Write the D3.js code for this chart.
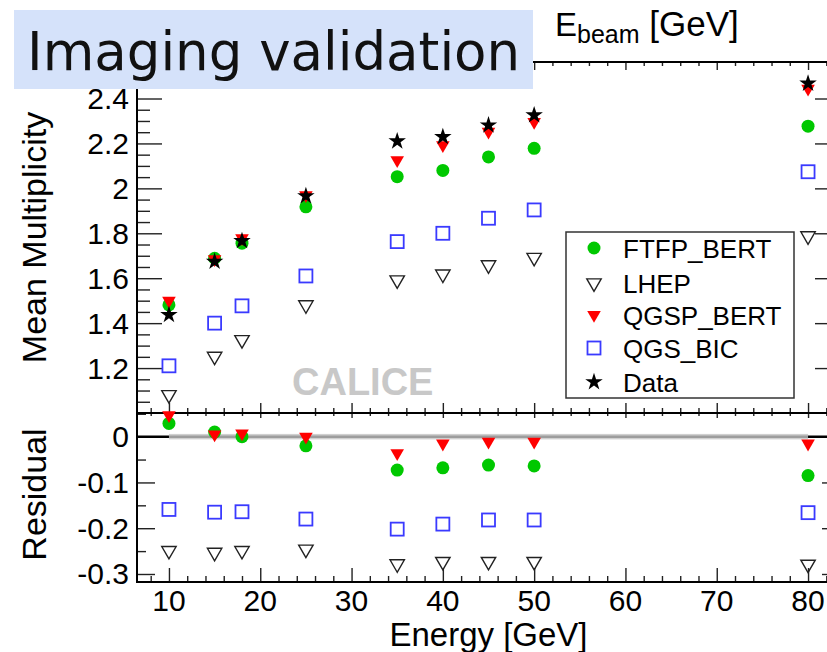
<!DOCTYPE html>
<html>
<head>
<meta charset="utf-8">
<script src="https://cdn.jsdelivr.net/npm/d3@7"></script>
<style>
  body { margin: 0; background: #fff; }
  svg { display: block; font-family: "Liberation Sans", Arial, sans-serif; }
</style>
</head>
<body>
<div id="chart"></div>
<script>
// beam energies (GeV)
var energies = [10, 15, 18, 25, 35, 40, 45, 50, 80];

// mean multiplicity, top panel
var dataMult   = [1.437, 1.674, 1.766, 1.966, 2.210, 2.229, 2.281, 2.326, 2.467];
var ftfpMult   = [1.481, 1.689, 1.756, 1.918, 2.052, 2.080, 2.140, 2.178, 2.277];
var lhepMult   = [1.081, 1.252, 1.326, 1.481, 1.592, 1.618, 1.659, 1.692, 1.788];
var qgspMult   = [1.500, 1.685, 1.778, 1.970, 2.126, 2.192, 2.252, 2.296, 2.444];
var qgsbicMult = [1.210, 1.400, 1.477, 1.610, 1.763, 1.800, 1.867, 1.904, 2.074];

// residuals (MC - data) / data, bottom panel
var ftfpRes   = [0.029, 0.010, 0.000, -0.020, -0.073, -0.068, -0.062, -0.064, -0.085];
var lhepRes   = [-0.249, -0.253, -0.249, -0.246, -0.278, -0.273, -0.273, -0.273, -0.279];
var qgspRes   = [0.047, 0.005, 0.007, 0.000, -0.036, -0.015, -0.011, -0.011, -0.015];
var qgsbicRes = [-0.159, -0.165, -0.164, -0.180, -0.202, -0.191, -0.182, -0.182, -0.166];

// tick labels
var xTickLabels = ["10", "20", "30", "40", "50", "60", "70", "80"];
var topTickLabels = ["1.2", "1.4", "1.6", "1.8", "2", "2.2", "2.4"];
var botTickLabels = ["0", "-0.1", "-0.2", "-0.3"];

var legendNames = ["FTFP_BERT", "LHEP", "QGSP_BERT", "QGS_BIC", "Data"];

var W = 827, H = 652;
var L = 137, R = 840, T = 62, M = 413, B = 582;

var svg = d3.select("#chart").append("svg")
  .attr("width", W).attr("height", H);

var x = d3.scaleLinear().domain([6.5, 83.5]).range([L, R]);
var yTop = d3.scaleLinear().domain([1.0, 2.5625]).range([M, T]);
var yBot = d3.scaleLinear().domain([-0.3175, 0.0517]).range([B, M]);

function range(a, b, step) {
  var out = [];
  for (var v = a; v <= b + 1e-9; v += step) out.push(Math.round(v * 1000) / 1000);
  return out;
}

var xMajor = xTickLabels.map(Number);
var xMinor = range(8, 82, 2).filter(function(v) { return v % 10 !== 0; });
var topMajor = topTickLabels.map(Number);
var topMinor = range(1.05, 2.55, 0.05).filter(function(v) { return topMajor.indexOf(v) < 0; });
var botMajor = botTickLabels.map(Number);
var botMinor = [0.05, -0.05, -0.15, -0.25];

// draws ticks with d3.axis, no domain path
function ticks(g, axis, values, size) {
  g.call(axis.tickValues(values).tickSize(size).tickFormat(""))
    .call(function(s) { s.select(".domain").remove(); });
  g.selectAll("line").attr("stroke", "#222").attr("stroke-width", 1.4);
  return g;
}

var axes = svg.append("g");

// top panel: left and right y ticks
ticks(axes.append("g").attr("transform", "translate(" + L + ",0)"), d3.axisRight(yTop), topMajor, 25);
ticks(axes.append("g").attr("transform", "translate(" + L + ",0)"), d3.axisRight(yTop), topMinor, 13);
ticks(axes.append("g").attr("transform", "translate(" + R + ",0)"), d3.axisLeft(yTop), topMajor, 25);
ticks(axes.append("g").attr("transform", "translate(" + R + ",0)"), d3.axisLeft(yTop), topMinor, 13);
// top panel: x ticks on bottom (pointing up) and top frame (pointing down)
ticks(axes.append("g").attr("transform", "translate(0," + M + ")"), d3.axisTop(x), xMajor, 10);
ticks(axes.append("g").attr("transform", "translate(0," + M + ")"), d3.axisTop(x), xMinor, 5);
ticks(axes.append("g").attr("transform", "translate(0," + T + ")"), d3.axisBottom(x), xMajor, 8);
ticks(axes.append("g").attr("transform", "translate(0," + T + ")"), d3.axisBottom(x), xMinor, 4);

// bottom panel
ticks(axes.append("g").attr("transform", "translate(" + L + ",0)"), d3.axisRight(yBot), botMajor, 18);
ticks(axes.append("g").attr("transform", "translate(" + L + ",0)"), d3.axisRight(yBot), botMinor, 9);
ticks(axes.append("g").attr("transform", "translate(" + R + ",0)"), d3.axisLeft(yBot), botMajor, 18);
ticks(axes.append("g").attr("transform", "translate(" + R + ",0)"), d3.axisLeft(yBot), botMinor, 9);
ticks(axes.append("g").attr("transform", "translate(0," + B + ")"), d3.axisTop(x), xMajor, 14);
ticks(axes.append("g").attr("transform", "translate(0," + B + ")"), d3.axisTop(x), xMinor, 6);
ticks(axes.append("g").attr("transform", "translate(0," + M + ")"), d3.axisBottom(x), xMajor, 5);
ticks(axes.append("g").attr("transform", "translate(0," + M + ")"), d3.axisBottom(x), xMinor, 3);

// zero line and data band in residual panel
svg.append("line")
  .attr("x1", L).attr("x2", R)
  .attr("y1", yBot(0)).attr("y2", yBot(0))
  .attr("stroke", "#000").attr("stroke-width", 2.5);
svg.append("rect")
  .attr("x", x(10)).attr("width", x(80) - x(10))
  .attr("y", yBot(0.006)).attr("height", yBot(-0.006) - yBot(0.006))
  .attr("fill", "#c4c4c4").attr("opacity", 0.8);

// frames
svg.append("rect").attr("x", L).attr("y", T).attr("width", R - L).attr("height", M - T)
  .attr("fill", "none").attr("stroke", "#000").attr("stroke-width", 2);
svg.append("rect").attr("x", L).attr("y", M).attr("width", R - L).attr("height", B - M)
  .attr("fill", "none").attr("stroke", "#000").attr("stroke-width", 2);

// tick labels
svg.append("g").selectAll("text").data(xTickLabels).enter().append("text")
  .attr("x", function(d) { return x(+d); })
  .attr("y", 611)
  .attr("text-anchor", "middle")
  .attr("font-size", 30)
  .text(function(d) { return d; });
svg.append("g").selectAll("text").data(topTickLabels).enter().append("text")
  .attr("x", 129)
  .attr("y", function(d) { return yTop(+d) + 10.5; })
  .attr("text-anchor", "end")
  .attr("font-size", 30)
  .text(function(d) { return d; });
svg.append("g").selectAll("text").data(botTickLabels).enter().append("text")
  .attr("x", 129)
  .attr("y", function(d) { return yBot(+d) + 10.5; })
  .attr("text-anchor", "end")
  .attr("font-size", 30)
  .text(function(d) { return d; });

// axis titles
svg.append("text")
  .attr("x", (L + R) / 2).attr("y", 646)
  .attr("text-anchor", "middle").attr("font-size", 33)
  .text("Energy [GeV]");
svg.append("text")
  .attr("transform", "translate(46," + ((T + M) / 2) + ") rotate(-90)")
  .attr("text-anchor", "middle").attr("font-size", 34)
  .text("Mean Multiplicity");
svg.append("text")
  .attr("transform", "translate(46," + ((M + B) / 2 - 3) + ") rotate(-90)")
  .attr("text-anchor", "middle").attr("font-size", 34)
  .text("Residual");

var ebeam = svg.append("text").attr("x", 555).attr("y", 36).attr("font-size", 33);
ebeam.append("tspan").text("E");
ebeam.append("tspan").attr("font-size", 25).attr("dy", 7).text("beam");
ebeam.append("tspan").attr("dy", -7).attr("font-size", 35).text(" [GeV]");

// watermark
svg.append("text")
  .attr("x", 292).attr("y", 395)
  .attr("font-size", 38).attr("font-weight", "bold")
  .attr("fill", "#c8c8c8")
  .text("CALICE");

// markers
var green = "#00c800", red = "#ff0000", blue = "#3a3aff";
var triDown = d3.symbol().type(d3.symbolTriangle).size(80);
var triDownBig = d3.symbol().type(d3.symbolTriangle).size(90);
var star = d3.symbol().type(d3.symbolStar).size(95);

function drawSeries(g, vals, yScale, kind) {
  var sel = g.append("g").selectAll("path").data(vals).enter();
  var px = function(d, i) { return x(energies[i]); };
  if (kind === "ftfp") {
    sel.append("circle")
      .attr("cx", px).attr("cy", function(d) { return yScale(d); })
      .attr("r", 6.5).attr("fill", green);
  } else if (kind === "lhep") {
    sel.append("path")
      .attr("d", triDownBig)
      .attr("transform", function(d, i) { return "translate(" + px(d, i) + "," + yScale(d) + ") rotate(180)"; })
      .attr("fill", "none").attr("stroke", "#222").attr("stroke-width", 1.4);
  } else if (kind === "qgsp") {
    sel.append("path")
      .attr("d", triDown)
      .attr("transform", function(d, i) { return "translate(" + px(d, i) + "," + yScale(d) + ") rotate(180)"; })
      .attr("fill", red);
  } else if (kind === "bic") {
    sel.append("rect")
      .attr("x", function(d, i) { return px(d, i) - 6.5; })
      .attr("y", function(d) { return yScale(d) - 6.5; })
      .attr("width", 13).attr("height", 13)
      .attr("fill", "none").attr("stroke", blue).attr("stroke-width", 1.8);
  } else {
    sel.append("path")
      .attr("d", star)
      .attr("transform", function(d, i) { return "translate(" + px(d, i) + "," + yScale(d) + ")"; })
      .attr("fill", "#000");
  }
}

var marks = svg.append("g");
drawSeries(marks, ftfpMult, yTop, "ftfp");
drawSeries(marks, lhepMult, yTop, "lhep");
drawSeries(marks, qgspMult, yTop, "qgsp");
drawSeries(marks, qgsbicMult, yTop, "bic");
drawSeries(marks, dataMult, yTop, "data");
drawSeries(marks, ftfpRes, yBot, "ftfp");
drawSeries(marks, lhepRes, yBot, "lhep");
drawSeries(marks, qgspRes, yBot, "qgsp");
drawSeries(marks, qgsbicRes, yBot, "bic");

// legend
var leg = svg.append("g");
leg.append("rect").attr("x", 566).attr("y", 232).attr("width", 228).attr("height", 166)
  .attr("fill", "#fff").attr("stroke", "#333").attr("stroke-width", 1.5);
var rowY = [248, 283, 315, 348, 382];
var mx = 594;
leg.append("circle").attr("cx", mx).attr("cy", rowY[0]).attr("r", 6.5).attr("fill", green);
leg.append("path").attr("d", triDownBig).attr("transform", "translate(" + mx + "," + rowY[1] + ") rotate(180)")
  .attr("fill", "none").attr("stroke", "#222").attr("stroke-width", 1.4);
leg.append("path").attr("d", triDown).attr("transform", "translate(" + mx + "," + rowY[2] + ") rotate(180)")
  .attr("fill", red);
leg.append("rect").attr("x", mx - 6.5).attr("y", rowY[3] - 6.5).attr("width", 13).attr("height", 13)
  .attr("fill", "none").attr("stroke", blue).attr("stroke-width", 1.8);
leg.append("path").attr("d", star).attr("transform", "translate(" + mx + "," + rowY[4] + ")").attr("fill", "#000");
leg.selectAll("text.lt").data(legendNames).enter().append("text")
  .attr("class", "lt")
  .attr("x", 623).attr("y", function(d, i) { return rowY[i] + 9.5; })
  .attr("font-size", 26)
  .text(function(d) { return d; });

// title box
svg.append("rect").attr("x", 14).attr("y", 10).attr("width", 519).attr("height", 79)
  .attr("fill", "#d5e2fa");
svg.append("text").attr("x", 27).attr("y", 70)
  .attr("font-family", "DejaVu Sans").attr("font-size", 53)
  .attr("fill", "#111")
  .text("Imaging validation");
</script>
</body>
</html>
